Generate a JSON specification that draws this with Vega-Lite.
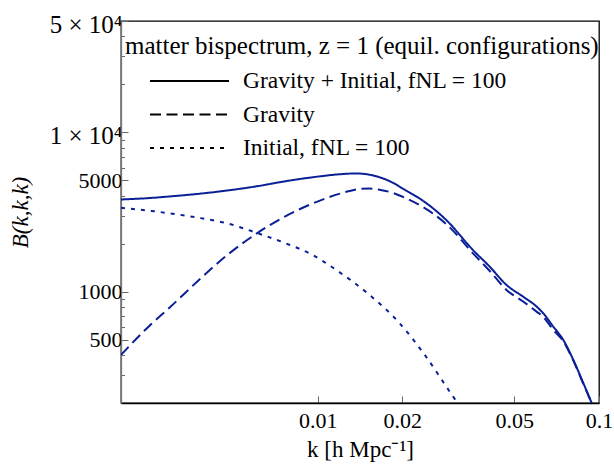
{
  "$schema": "https://vega.github.io/schema/vega-lite/v6.json",
  "width": 478,
  "height": 382,
  "autosize": {"type": "none"},
  "padding": {"left": 121, "top": 21, "right": 15, "bottom": 71},
  "background": "white",
  "config": {
    "font": "Liberation Serif",
    "view": {"stroke": "black", "strokeWidth": 1.3},
    "axis": {"grid": false, "labelColor": "black", "titleColor": "black", "labelFontSize": 22, "titleFontSize": 23, "titleFontWeight": "normal", "labelFont": "Liberation Serif", "titleFont": "Liberation Serif"}
  },
  "data": {
    "values": [
      {"k": 0.002, "B": 3790, "series": "Gravity + Initial, fNL = 100"},
      {"k": 0.00251, "B": 3867, "series": "Gravity + Initial, fNL = 100"},
      {"k": 0.0030, "B": 3963, "series": "Gravity + Initial, fNL = 100"},
      {"k": 0.00384, "B": 4126, "series": "Gravity + Initial, fNL = 100"},
      {"k": 0.00477, "B": 4315, "series": "Gravity + Initial, fNL = 100"},
      {"k": 0.0061, "B": 4591, "series": "Gravity + Initial, fNL = 100"},
      {"k": 0.00761, "B": 4920, "series": "Gravity + Initial, fNL = 100"},
      {"k": 0.0096, "B": 5226, "series": "Gravity + Initial, fNL = 100"},
      {"k": 0.01228, "B": 5474, "series": "Gravity + Initial, fNL = 100"},
      {"k": 0.01363, "B": 5521, "series": "Gravity + Initial, fNL = 100"},
      {"k": 0.01529, "B": 5419, "series": "Gravity + Initial, fNL = 100"},
      {"k": 0.01659, "B": 5226, "series": "Gravity + Initial, fNL = 100"},
      {"k": 0.0185, "B": 4828, "series": "Gravity + Initial, fNL = 100"},
      {"k": 0.02036, "B": 4365, "series": "Gravity + Initial, fNL = 100"},
      {"k": 0.02303, "B": 3845, "series": "Gravity + Initial, fNL = 100"},
      {"k": 0.02867, "B": 2812, "series": "Gravity + Initial, fNL = 100"},
      {"k": 0.03567, "B": 1824, "series": "Gravity + Initial, fNL = 100"},
      {"k": 0.0409, "B": 1434, "series": "Gravity + Initial, fNL = 100"},
      {"k": 0.04691, "B": 1101, "series": "Gravity + Initial, fNL = 100"},
      {"k": 0.05374, "B": 930, "series": "Gravity + Initial, fNL = 100"},
      {"k": 0.06001, "B": 806, "series": "Gravity + Initial, fNL = 100"},
      {"k": 0.06333, "B": 732, "series": "Gravity + Initial, fNL = 100"},
      {"k": 0.06874, "B": 604, "series": "Gravity + Initial, fNL = 100"},
      {"k": 0.07464, "B": 498, "series": "Gravity + Initial, fNL = 100"},
      {"k": 0.08098, "B": 374, "series": "Gravity + Initial, fNL = 100"},
      {"k": 0.08794, "B": 267, "series": "Gravity + Initial, fNL = 100"},
      {"k": 0.09419, "B": 200, "series": "Gravity + Initial, fNL = 100"},

      {"k": 0.002, "B": 401, "series": "Gravity"},
      {"k": 0.00251, "B": 605, "series": "Gravity"},
      {"k": 0.0030, "B": 804, "series": "Gravity"},
      {"k": 0.00384, "B": 1213, "series": "Gravity"},
      {"k": 0.00477, "B": 1697, "series": "Gravity"},
      {"k": 0.0061, "B": 2332, "series": "Gravity"},
      {"k": 0.00761, "B": 2949, "series": "Gravity"},
      {"k": 0.0096, "B": 3577, "series": "Gravity"},
      {"k": 0.01262, "B": 4229, "series": "Gravity"},
      {"k": 0.0139, "B": 4397, "series": "Gravity"},
      {"k": 0.01529, "B": 4441, "series": "Gravity"},
      {"k": 0.01659, "B": 4365, "series": "Gravity"},
      {"k": 0.0185, "B": 4169, "series": "Gravity"},
      {"k": 0.02036, "B": 3890, "series": "Gravity"},
      {"k": 0.02303, "B": 3491, "series": "Gravity"},
      {"k": 0.02867, "B": 2654, "series": "Gravity"},
      {"k": 0.03567, "B": 1740, "series": "Gravity"},
      {"k": 0.0409, "B": 1348, "series": "Gravity"},
      {"k": 0.04691, "B": 1025, "series": "Gravity"},
      {"k": 0.05374, "B": 868, "series": "Gravity"},
      {"k": 0.06001, "B": 749, "series": "Gravity"},
      {"k": 0.06333, "B": 695, "series": "Gravity"},
      {"k": 0.06874, "B": 576, "series": "Gravity"},
      {"k": 0.07464, "B": 488, "series": "Gravity"},
      {"k": 0.08098, "B": 370, "series": "Gravity"},
      {"k": 0.08794, "B": 264, "series": "Gravity"},
      {"k": 0.09419, "B": 200, "series": "Gravity"},

      {"k": 0.002, "B": 3357, "series": "Initial, fNL = 100"},
      {"k": 0.00251, "B": 3225, "series": "Initial, fNL = 100"},
      {"k": 0.0030, "B": 3097, "series": "Initial, fNL = 100"},
      {"k": 0.00384, "B": 2894, "series": "Initial, fNL = 100"},
      {"k": 0.00477, "B": 2682, "series": "Initial, fNL = 100"},
      {"k": 0.0061, "B": 2332, "series": "Initial, fNL = 100"},
      {"k": 0.00761, "B": 2027, "series": "Initial, fNL = 100"},
      {"k": 0.0096, "B": 1697, "series": "Initial, fNL = 100"},
      {"k": 0.01178, "B": 1348, "series": "Initial, fNL = 100"},
      {"k": 0.01529, "B": 954, "series": "Initial, fNL = 100"},
      {"k": 0.01955, "B": 634, "series": "Initial, fNL = 100"},
      {"k": 0.0240, "B": 402, "series": "Initial, fNL = 100"},
      {"k": 0.03027, "B": 220, "series": "Initial, fNL = 100"},
      {"k": 0.03146, "B": 200, "series": "Initial, fNL = 100"}
    ]
  },
  "mark": {"type": "line", "clip": true, "strokeWidth": 2, "color": "#0a1f96", "interpolate": "monotone"},
  "encoding": {
    "x": {
      "field": "k",
      "type": "quantitative",
      "scale": {"type": "log", "domain": [0.002, 0.1], "nice": false},
      "axis": {
        "title": "k [h Mpc⁻¹]",
        "values": [0.01, 0.02, 0.05, 0.1],
        "format": ".2~f",
        "labelFlush": false,
        "labelOverlap": false,
        "tickSize": -7,
        "tickColor": "#666666",
        "domainColor": "black",
        "domainWidth": 1.3,
        "labelPadding": 14,
        "titlePadding": 7
      }
    },
    "y": {
      "field": "B",
      "type": "quantitative",
      "scale": {"type": "log", "domain": [200, 50000], "nice": false},
      "axis": {
        "title": "B(k,k,k)",
        "titleFontStyle": "italic",
        "values": [300, 400, 500, 600, 700, 800, 900, 1000, 2000, 3000, 4000, 5000, 6000, 7000, 8000, 9000, 10000, 20000, 30000, 40000, 50000],
        "labelExpr": "datum.value == 50000 ? '5 × 10⁴' : datum.value == 10000 ? '1 × 10⁴' : (indexof([500, 1000, 5000], datum.value) >= 0 ? format(datum.value, 'd') : '')",
        "labelOverlap": false,
        "labelFlush": false,
        "labelFontSize": {"condition": {"test": "datum.value >= 10000", "value": 25}, "value": 22},
        "labelOffset": {"condition": {"test": "datum.value >= 10000", "value": 3}, "value": 0},
        "tickSize": {"condition": {"test": "indexof([500, 1000, 5000, 10000, 50000], datum.value) >= 0", "value": -7}, "value": -3.5},
        "tickColor": "#666666",
        "domainColor": "#777777",
        "domainWidth": 1.3,
        "labelPadding": 6,
        "titlePadding": 17
      }
    },
    "strokeDash": {
      "field": "series",
      "type": "nominal",
      "scale": {
        "domain": ["Gravity + Initial, fNL = 100", "Gravity", "Initial, fNL = 100"],
        "range": [[1, 0], [11, 5.5], [4, 6]]
      },
      "legend": {
        "orient": "none",
        "legendX": 4,
        "legendY": 13,
        "padding": 0,
        "title": "matter bispectrum, z = 1 (equil. configurations)",
        "titleFont": "Liberation Serif",
        "titleFontSize": 25,
        "titleFontWeight": "normal",
        "titleColor": "black",
        "titleLimit": 600,
        "titlePadding": 10,
        "labelFont": "Liberation Serif",
        "labelFontSize": 23.5,
        "labelColor": "black",
        "labelLimit": 500,
        "labelOffset": 13,
        "symbolType": "stroke",
        "symbolSize": 6241,
        "symbolStrokeWidth": 2,
        "symbolStrokeColor": "black",
        "symbolOffset": 24,
        "clipHeight": 24,
        "rowPadding": 9.5,
        "encode": {"symbols": {"update": {"stroke": {"value": "black"}}}}
      }
    }
  }
}
